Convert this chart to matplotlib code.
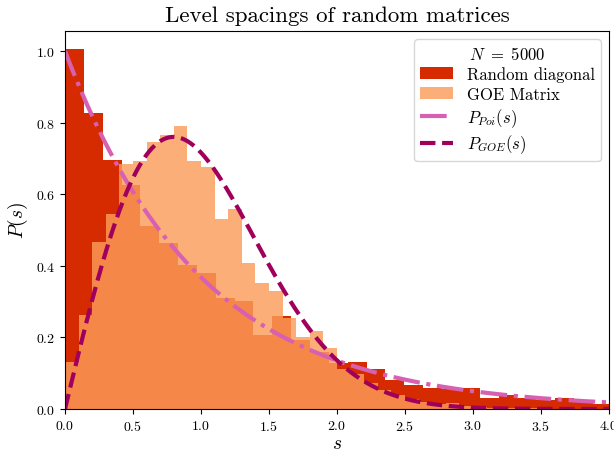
import numpy as np
import matplotlib
matplotlib.use('Agg')
import matplotlib.pyplot as plt

plt.rcParams['font.family'] = 'serif'
plt.rcParams['font.serif'] = ['cmr10', 'DejaVu Serif']
plt.rcParams['mathtext.fontset'] = 'cm'
plt.rcParams['axes.formatter.use_mathtext'] = True

# histogram heights
diag_width = 0.1386
diag_heights = [1.006, 0.827, 0.696, 0.626, 0.512, 0.464, 0.402, 0.380, 0.310, 0.303,
                0.207, 0.260, 0.194, 0.158, 0.129, 0.132, 0.112, 0.081, 0.067, 0.058,
                0.055, 0.059, 0.031, 0.039, 0.030, 0.026, 0.030, 0.020, 0.015]
goe_width = 0.1
goe_heights = [0.132, 0.262, 0.467, 0.545, 0.684, 0.693, 0.746, 0.766, 0.791, 0.693,
               0.677, 0.531, 0.559, 0.408, 0.352, 0.330, 0.254, 0.201, 0.218, 0.170,
               0.112, 0.098, 0.074, 0.054, 0.040, 0.028, 0.020, 0.014, 0.017, 0.009,
               0.006, 0.004, 0.003, 0.002, 0.003, 0.001]
n_matrix = 5000

diag_edges = np.arange(len(diag_heights)) * diag_width
goe_edges = np.arange(len(goe_heights)) * goe_width

s = np.linspace(0, 4, 400)
p_poi = np.exp(-s)
p_goe = np.pi / 2 * s * np.exp(-np.pi * s**2 / 4)

fig = plt.figure(figsize=(6.14, 4.52), dpi=100)
ax = fig.add_axes([65 / 614, 42 / 452, 544 / 614, 378 / 452])

b1 = ax.bar(diag_edges, diag_heights, width=diag_width, align='edge',
            color='#d62a00', linewidth=0, label='Random diagonal')
b2 = ax.bar(goe_edges, goe_heights, width=goe_width, align='edge',
            color='#fc9c5a', alpha=0.82, linewidth=0, label='GOE Matrix')
l1, = ax.plot(s, p_poi, '-.', color='#d860b2', lw=3, label=r'$P_{Poi}(s)$')
l2, = ax.plot(s, p_goe, '--', color='#a0005c', lw=3, label=r'$P_{GOE}(s)$')

ax.set_xlim(0, 4)
ax.set_ylim(0, 1.056)
ax.set_title('Level spacings of random matrices', fontsize=16.5, pad=7)
ax.set_xlabel(r'$s$', fontsize=14, labelpad=1)
ax.set_ylabel(r'$P(s)$', fontsize=14)
ax.tick_params(labelsize=10)
ax.legend(handles=[b1, b2, l1, l2], title=r'$N\ =\ %d$' % n_matrix,
          loc='upper right', fontsize=12, title_fontsize=12,
          labelspacing=0.25, borderpad=0.35)

fig.savefig('out.png', dpi=100)
